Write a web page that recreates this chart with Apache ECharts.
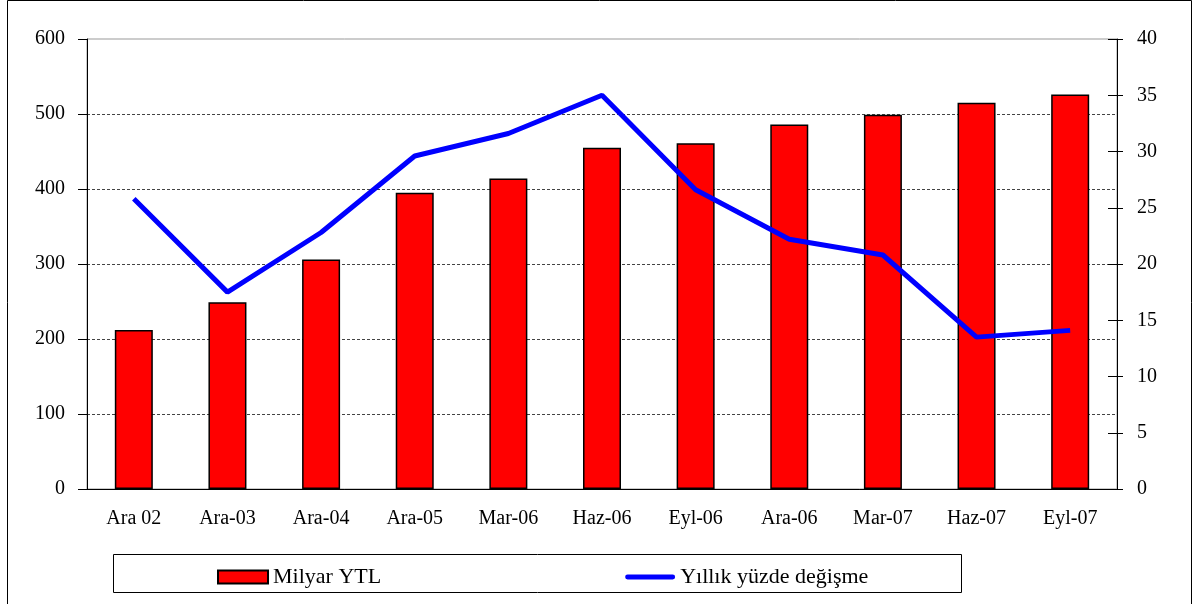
<!DOCTYPE html>
<html>
<head>
<meta charset="utf-8">
<script src="https://cdn.jsdelivr.net/npm/echarts@6/dist/echarts.min.js"></script>
<style>
  body { margin: 0; background: #fff; }
</style>
</head>
<body>
<div id="myChart" style="width:1198px;height:604px"></div>
<script>
var categories = ['Ara 02', 'Ara-03', 'Ara-04', 'Ara-05', 'Mar-06', 'Haz-06', 'Eyl-06', 'Ara-06', 'Mar-07', 'Haz-07', 'Eyl-07']
var milyarYTL = [212, 249, 306, 395, 414, 455, 461, 486, 499, 515, 526]
var yillikDegisme = [25.8, 17.5, 22.8, 29.6, 31.6, 35.0, 26.6, 22.2, 20.8, 13.5, 14.1]
var leftTicks = [0, 600, 100]
var rightTicks = [0, 40, 5]

var font = 'Liberation Serif'
var txt = { color: '#000', fontFamily: font, fontSize: 20 }

var myChart = echarts.init(document.getElementById('myChart'))

var options = {
  animation: false,
  grid: {
    left: 87, right: 81, top: 39, bottom: 115,
    show: true, borderColor: '#999', borderWidth: 1
  },
  legend: {
    left: 212, top: 561,
    itemWidth: 50, itemHeight: 13, itemGap: 244,
    textStyle: { color: '#000', fontFamily: font, fontSize: 22 },
    data: [
      { name: 'Milyar YTL', icon: 'rect' },
      { name: 'Yıllık yüzde değişme', icon: 'path://M2,0 L48,0 A2.5,2.5 0 0 1 48,5 L2,5 A2.5,2.5 0 0 1 2,0 Z' }
    ]
  },
  xAxis: [{
    type: 'category',
    data: categories,
    axisLine: { lineStyle: { color: '#000', width: 1 } },
    axisTick: { length: 6, lineStyle: { color: '#000' } },
    axisLabel: Object.assign({ margin: 20 }, txt)
  }, {
    type: 'category',
    data: categories,
    position: 'bottom',
    axisLine: { show: false },
    axisTick: { inside: true, length: 7, lineStyle: { color: '#000' } },
    axisLabel: { show: false }
  }],
  yAxis: [{
    type: 'value',
    min: leftTicks[0], max: leftTicks[1], interval: leftTicks[2],
    axisLine: { show: true, lineStyle: { color: '#000' } },
    axisTick: { show: true, length: 9, lineStyle: { color: '#000' } },
    axisLabel: Object.assign({ margin: 22 }, txt),
    splitLine: { show: true, showMaxLine: false, lineStyle: { color: '#444', type: [3, 2], width: 1 } }
  }, {
    type: 'value',
    position: 'right',
    min: rightTicks[0], max: rightTicks[1], interval: rightTicks[2],
    axisLine: { show: true, lineStyle: { color: '#000' } },
    axisTick: { show: true, length: 6, lineStyle: { color: '#000' } },
    axisLabel: Object.assign({ margin: 20 }, txt),
    splitLine: { show: false }
  }, {
    type: 'value',
    position: 'right',
    min: rightTicks[0], max: rightTicks[1], interval: rightTicks[2],
    axisLine: { show: false },
    axisTick: { show: true, inside: true, length: 9, lineStyle: { color: '#000' } },
    axisLabel: { show: false },
    splitLine: { show: false }
  }],
  graphic: [{
    type: 'rect',
    shape: { x: 7.5, y: 0.5, width: 1184, height: 640 },
    style: { fill: 'none', stroke: '#000', lineWidth: 1 },
    silent: true
  }, {
    type: 'rect',
    shape: { x: 113.5, y: 554.5, width: 848, height: 38 },
    style: { fill: 'none', stroke: '#000', lineWidth: 1 },
    silent: true
  }],
  series: [{
    name: 'Milyar YTL',
    type: 'bar',
    data: milyarYTL,
    barWidth: 38,
    itemStyle: { color: '#ff0000', borderColor: '#000', borderWidth: 1.5 }
  }, {
    name: 'Yıllık yüzde değişme',
    type: 'line',
    yAxisIndex: 1,
    data: yillikDegisme,
    symbol: 'none',
    lineStyle: { color: '#0000ff', width: 5 },
    itemStyle: { color: '#0000ff' }
  }]
}

myChart.setOption(options)
</script>
</body>
</html>
